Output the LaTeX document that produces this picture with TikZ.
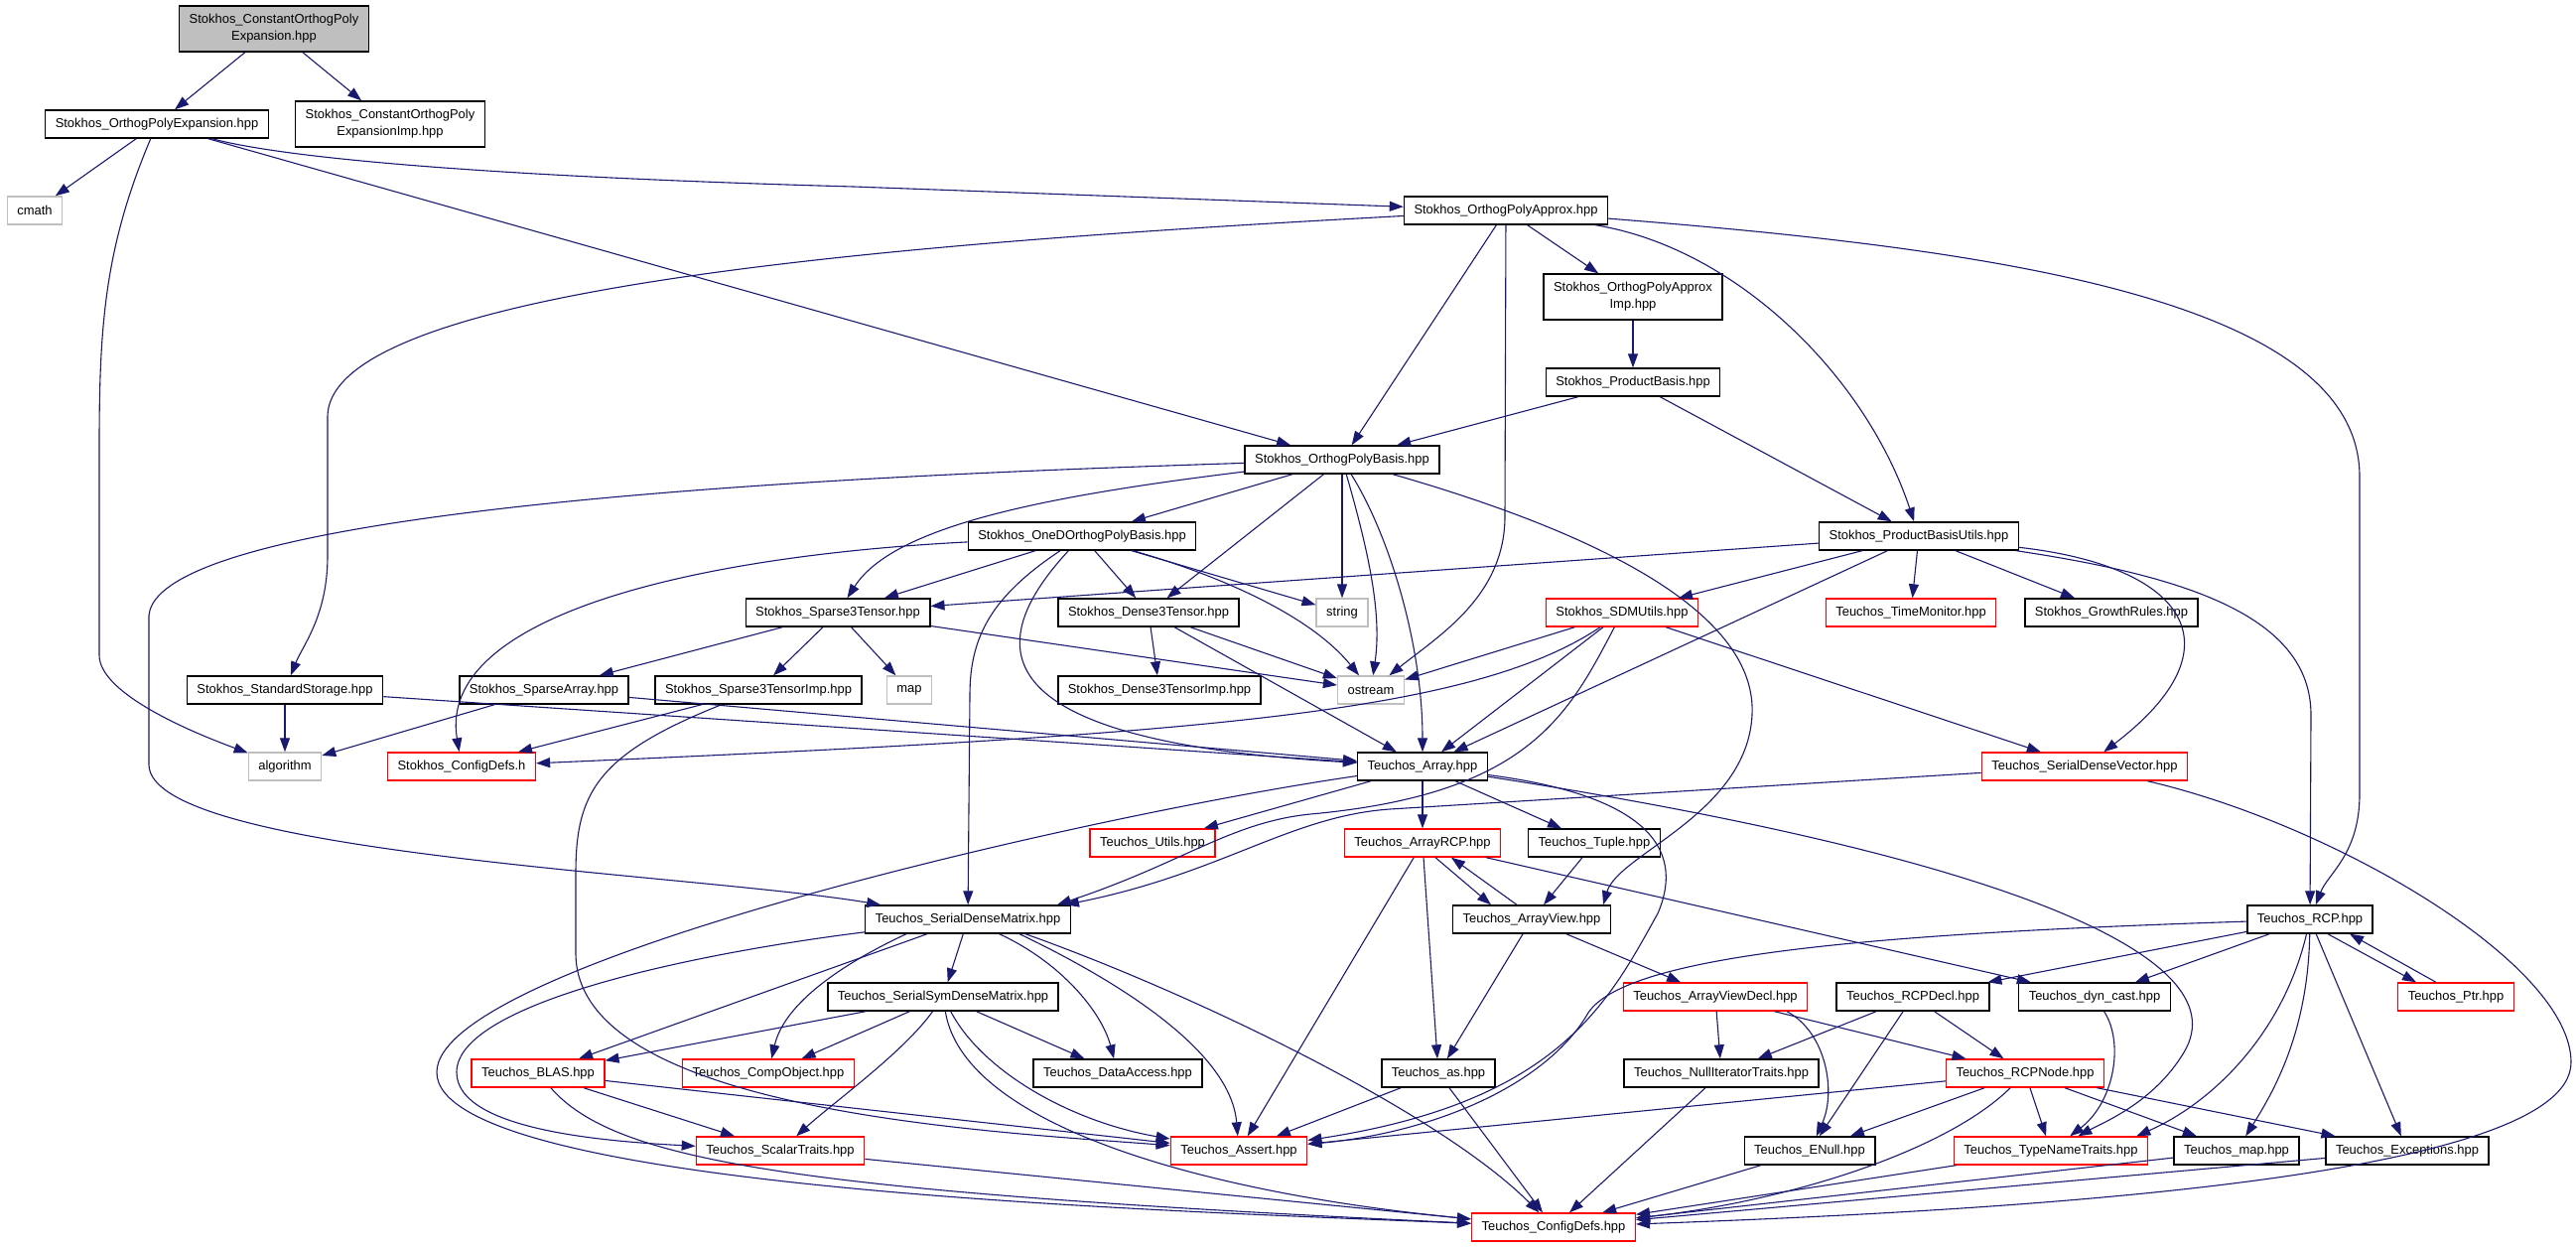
\documentclass[tikz,border=0pt]{standalone}
\usepackage{fontspec}
\setmainfont{Liberation Sans}
\usepackage{tikz}
\usetikzlibrary{arrows.meta}
\definecolor{edgeblue}{HTML}{191970}
\definecolor{sysgray}{HTML}{BFBFBF}
\newcommand{\filefont}{\fontsize{13}{17}\selectfont}
\tikzset{
    file/.style={draw=black, line width=1.4bp, fill=white, inner xsep=10bp, inner ysep=2bp,
        minimum height=28bp, align=center, font=\filefont},
    redfile/.style={file, draw=red},
    sysfile/.style={file, draw=sysgray},
    rootfile/.style={file, fill=sysgray, minimum height=46bp},
    twoline/.style={minimum height=46bp},
    dep/.style={draw=edgeblue, line width=1.1bp, -{Triangle[length=14bp, width=10bp]}},
}

\begin{document}
\begin{tikzpicture}[x=1bp, y=-1bp]
            \useasboundingbox (0, 0) rectangle (2595, 1256);

            \node [rootfile] (CEX) at (276, 29) {Stokhos\_ConstantOrthogPoly\\Expansion.hpp};
            \node [file] (OPE) at (158, 125) {Stokhos\_OrthogPolyExpansion.hpp};
            \node [file, twoline] (CEXI) at (393, 125) {Stokhos\_ConstantOrthogPoly\\ExpansionImp.hpp};
            \node [sysfile] (cmath) at (35, 212) {cmath};
            \node [file] (OPA) at (1517, 212) {Stokhos\_OrthogPolyApprox.hpp};
            \node [file, twoline] (OPAI) at (1645, 299) {Stokhos\_OrthogPolyApprox\\Imp.hpp};
            \node [file] (PB) at (1645, 385) {Stokhos\_ProductBasis.hpp};
            \node [file] (OPB) at (1352, 463) {Stokhos\_OrthogPolyBasis.hpp};
            \node [file] (OneD) at (1090, 540) {Stokhos\_OneDOrthogPolyBasis.hpp};
            \node [file] (PBU) at (1933, 540) {Stokhos\_ProductBasisUtils.hpp};
            \node [file] (S3T) at (844, 617) {Stokhos\_Sparse3Tensor.hpp};
            \node [file] (D3T) at (1157, 617) {Stokhos\_Dense3Tensor.hpp};
            \node [sysfile] (string) at (1352, 617) {string};
            \node [redfile] (SDMU) at (1634, 617) {Stokhos\_SDMUtils.hpp};
            \node [redfile] (TM) at (1925, 617) {Teuchos\_TimeMonitor.hpp};
            \node [file] (GR) at (2127, 617) {Stokhos\_GrowthRules.hpp};
            \node [file] (SS) at (287, 695) {Stokhos\_StandardStorage.hpp};
            \node [file] (SA) at (548, 695) {Stokhos\_SparseArray.hpp};
            \node [file] (S3TI) at (764, 695) {Stokhos\_Sparse3TensorImp.hpp};
            \node [sysfile] (map) at (916, 695) {map};
            \node [file] (D3TI) at (1168, 695) {Stokhos\_Dense3TensorImp.hpp};
            \node [sysfile] (ostream) at (1381, 695) {ostream};
            \node [sysfile] (algorithm) at (287, 772) {algorithm};
            \node [redfile] (SCD) at (465, 772) {Stokhos\_ConfigDefs.h};
            \node [file] (Arr) at (1433, 772) {Teuchos\_Array.hpp};
            \node [redfile] (SDV) at (2100, 772) {Teuchos\_SerialDenseVector.hpp};
            \node [redfile] (Utils) at (1161, 849) {Teuchos\_Utils.hpp};
            \node [redfile] (ARCP) at (1433, 849) {Teuchos\_ArrayRCP.hpp};
            \node [file] (Tuple) at (1606, 849) {Teuchos\_Tuple.hpp};
            \node [file] (SDM) at (975, 926) {Teuchos\_SerialDenseMatrix.hpp};
            \node [file] (AV) at (1543, 926) {Teuchos\_ArrayView.hpp};
            \node [file] (RCP) at (2327, 926) {Teuchos\_RCP.hpp};
            \node [file] (SSDM) at (950, 1004) {Teuchos\_SerialSymDenseMatrix.hpp};
            \node [redfile] (AVD) at (1728, 1004) {Teuchos\_ArrayViewDecl.hpp};
            \node [file] (RCPD) at (1927, 1004) {Teuchos\_RCPDecl.hpp};
            \node [file] (DC) at (2110, 1004) {Teuchos\_dyn\_cast.hpp};
            \node [redfile] (Ptr) at (2474, 1004) {Teuchos\_Ptr.hpp};
            \node [redfile] (BLAS) at (542, 1081) {Teuchos\_BLAS.hpp};
            \node [redfile] (CO) at (774, 1081) {Teuchos\_CompObject.hpp};
            \node [file] (DA) at (1126, 1081) {Teuchos\_DataAccess.hpp};
            \node [file] (as) at (1449, 1081) {Teuchos\_as.hpp};
            \node [file] (NIT) at (1734, 1081) {Teuchos\_NullIteratorTraits.hpp};
            \node [redfile] (RCPN) at (2040, 1081) {Teuchos\_RCPNode.hpp};
            \node [redfile] (ST) at (786, 1159) {Teuchos\_ScalarTraits.hpp};
            \node [redfile] (Assert) at (1248, 1159) {Teuchos\_Assert.hpp};
            \node [file] (ENull) at (1823, 1159) {Teuchos\_ENull.hpp};
            \node [redfile] (TNT) at (2066, 1159) {Teuchos\_TypeNameTraits.hpp};
            \node [file] (tmap) at (2253, 1159) {Teuchos\_map.hpp};
            \node [file] (Exc) at (2425, 1159) {Teuchos\_Exceptions.hpp};
            \node [redfile] (TCD) at (1565, 1236) {Teuchos\_ConfigDefs.hpp};

            % Stokhos headers
            \draw [dep] (CEX) -- (OPE);
            \draw [dep] (CEX) -- (CEXI);
            \draw [dep] (OPE) -- (cmath);
            \draw [dep] (OPE) .. controls (105, 250) and (100, 330) .. (100, 450) -- (100, 660) .. controls (100, 700) and (200, 740) .. (algorithm);
            \draw [dep] (OPE) .. controls (290, 160) and (500, 178) .. (860, 188) -- (OPA);
            \draw [dep] (OPE) -- (OPB);
            \draw [dep] (OPA) .. controls (900, 245) and (330, 290) .. (330, 420) -- (330, 560) .. controls (330, 620) and (305, 650) .. (SS);
            \draw [dep] (OPA) -- (OPB);
            \draw [dep] (OPA) -- (1516, 520) .. controls (1516, 600) and (1450, 640) .. (ostream);
            \draw [dep] (OPA) -- (OPAI);
            \draw [dep] (OPA) .. controls (1750, 250) and (1880, 380) .. (PBU);
            \draw [dep] (OPA) .. controls (2000, 250) and (2377, 300) .. (2377, 480) -- (2377, 800) .. controls (2377, 860) and (2345, 880) .. (RCP);
            \draw [dep] (OPAI) -- (PB);
            \draw [dep] (PB) -- (OPB);
            \draw [dep] (PB) -- (PBU);
            \draw [dep] (OPB) .. controls (1000, 475) and (160, 500) .. (150, 620) -- (150, 770) .. controls (150, 860) and (700, 880) .. (SDM);
            \draw [dep] (OPB) -- (OneD);
            \draw [dep] (OPB) .. controls (1050, 500) and (900, 530) .. (S3T);
            \draw [dep] (OPB) -- (D3T);
            \draw [dep] (OPB) -- (string);
            \draw [dep] (OPB) .. controls (1380, 560) and (1392, 620) .. (ostream);
            \draw [dep] (OPB) .. controls (1400, 540) and (1433, 650) .. (Arr);
            \draw [dep] (OPB) .. controls (1620, 540) and (1770, 620) .. (1765, 720) .. controls (1760, 820) and (1630, 860) .. ([xshift=-8bp]AV.north east);
            \draw [dep] (OneD) -- (S3T);
            \draw [dep] (OneD) -- (D3T);
            \draw [dep] (OneD) -- (string);
            \draw [dep] (OneD) .. controls (1230, 580) and (1320, 620) .. (ostream);
            \draw [dep] (OneD) .. controls (960, 680) and (1050, 750) .. (Arr);
            \draw [dep] (OneD) .. controls (700, 560) and (440, 620) .. (SCD);
            \draw [dep] (OneD) .. controls (1000, 600) and (977, 640) .. (977, 700) -- (SDM);
            \draw [dep] (S3T) -- (SA);
            \draw [dep] (S3T) -- (S3TI);
            \draw [dep] (S3T) -- (map);
            \draw [dep] (S3T) -- (ostream);
            \draw [dep] (SS) -- (algorithm);
            \draw [dep] (SS) -- (Arr);
            \draw [dep] (SA) -- (algorithm);
            \draw [dep] (SA) -- (Arr);
            \draw [dep] (S3TI) -- (SCD);
            \draw [dep] (S3TI) .. controls (600, 760) and (580, 800) .. (580, 880) -- (580, 960) .. controls (580, 1120) and (1000, 1140) .. (Assert);
            \draw [dep] (D3T) -- (D3TI);
            \draw [dep] (D3T) -- (ostream);
            \draw [dep] (D3T) -- (Arr);
            \draw [dep] (PBU) -- (S3T);
            \draw [dep] (PBU) -- (SDMU);
            \draw [dep] (PBU) -- (Arr);
            \draw [dep] (PBU) -- (TM);
            \draw [dep] (PBU) -- (GR);
            \draw [dep] (PBU) .. controls (2200, 570) and (2260, 650) .. (SDV);
            \draw [dep] (PBU) .. controls (2200, 580) and (2328, 620) .. (2328, 720) -- (RCP);
            \draw [dep] (SDMU) -- (ostream);
            \draw [dep] (SDMU) -- (Arr);
            \draw [dep] (SDMU) .. controls (1480, 720) and (1200, 740) .. (SCD);
            \draw [dep] (SDMU) .. controls (1580, 720) and (1540, 800) .. (1320, 820) .. controls (1240, 828) and (1190, 870) .. ([xshift=-14bp]SDM.north east);
            \draw [dep] (SDMU) -- (SDV);

            % Teuchos headers
            \draw [dep] (SDV) -- (1400, 815) .. controls (1300, 822) and (1230, 880) .. ([xshift=-6bp]SDM.north east);
            \draw [dep] (SDV) .. controls (2350, 830) and (2590, 970) .. (2590, 1070) .. controls (2590, 1190) and (2000, 1220) .. (TCD);
            \draw [dep] (Arr) .. controls (1100, 820) and (440, 970) .. (440, 1080) .. controls (440, 1200) and (1200, 1220) .. (TCD);
            \draw [dep] (Arr) -- (Utils);
            \draw [dep] (Arr) -- (ARCP);
            \draw [dep] (Arr) -- (Tuple);
            \draw [dep] (Arr) .. controls (1650, 800) and (1700, 850) .. (1670, 920) .. controls (1620, 1010) and (1570, 1110) .. (Assert);
            \draw [dep] (Arr) .. controls (2000, 860) and (2260, 960) .. (2200, 1060) .. controls (2170, 1110) and (2120, 1130) .. (TNT);
            \draw [dep] ([xshift=13bp]ARCP.south) -- ([xshift=-41bp]AV.north);
            \draw [dep] ([xshift=-15bp]AV.north) -- ([xshift=29bp]ARCP.south);
            \draw [dep] (ARCP) -- (as);
            \draw [dep] (ARCP) -- (Assert);
            \draw [dep] (ARCP) -- (DC);
            \draw [dep] (Tuple) -- (AV);
            \draw [dep] (AV) -- (as);
            \draw [dep] (AV) -- (AVD);
            \draw [dep] (SDM) -- (SSDM);
            \draw [dep] (SDM) -- (BLAS);
            \draw [dep] ([xshift=-62bp]SDM.south) .. controls (850, 970) and (790, 1010) .. (CO);
            \draw [dep] (SDM) .. controls (1070, 970) and (1110, 1020) .. (DA);
            \draw [dep] (SDM) .. controls (700, 960) and (460, 1010) .. (460, 1080) .. controls (460, 1140) and (620, 1150) .. (ST);
            \draw [dep] ([xshift=52bp]SDM.south) .. controls (1130, 990) and (1240, 1060) .. (Assert);
            \draw [dep] ([xshift=58bp]SDM.south) .. controls (1200, 1000) and (1450, 1120) .. (TCD);
            \draw [dep] (SSDM) -- (BLAS);
            \draw [dep] (SSDM) -- (CO);
            \draw [dep] (SSDM) .. controls (910, 1060) and (840, 1110) .. (ST);
            \draw [dep] (SSDM) -- (DA);
            \draw [dep] (SSDM) .. controls (990, 1080) and (1080, 1130) .. (Assert);
            \draw [dep] (SSDM) .. controls (970, 1130) and (1200, 1200) .. (TCD);
            \draw [dep] (BLAS) -- (ST);
            \draw [dep] (BLAS) -- (Assert);
            \draw [dep] (BLAS) .. controls (620, 1170) and (800, 1200) .. (TCD);
            \draw [dep] (ST) -- (TCD);
            \draw [dep] (as) -- (Assert);
            \draw [dep] (as) -- (TCD);
            \draw [dep] (AVD) -- (NIT);
            \draw [dep] ([xshift=72bp]AVD.south) .. controls (1840, 1040) and (1850, 1100) .. (ENull);
            \draw [dep] (AVD) -- (RCPN);
            \draw [dep] (RCPD) -- (NIT);
            \draw [dep] (RCPD) -- (ENull);
            \draw [dep] (RCPD) -- (RCPN);
            \draw [dep] (NIT) -- (TCD);
            \draw [dep] (RCPN) -- (Assert);
            \draw [dep] (RCPN) -- (ENull);
            \draw [dep] (RCPN) -- (TNT);
            \draw [dep] (RCPN) .. controls (1960, 1160) and (1800, 1210) .. (TCD);
            \draw [dep] (RCPN) -- (tmap);
            \draw [dep] (RCPN) -- (Exc);
            \draw [dep] (ENull) -- (TCD);
            \draw [dep] (TNT) -- (TCD);
            \draw [dep] (tmap) -- (TCD);
            \draw [dep] (Exc) -- (TCD);
            \draw [dep] (DC) .. controls (2140, 1050) and (2130, 1110) .. (TNT);
            \draw [dep] (RCP) .. controls (1900, 940) and (1640, 960) .. (1600, 1020) .. controls (1560, 1090) and (1450, 1140) .. (Assert);
            \draw [dep] (RCP) -- (RCPD);
            \draw [dep] (RCP) -- (DC);
            \draw [dep] (RCP) .. controls (2300, 1040) and (2230, 1110) .. ([xshift=-12bp]TNT.north east);
            \draw [dep] (RCP) .. controls (2325, 1040) and (2290, 1100) .. (tmap);
            \draw [dep] (RCP) -- (Exc);
            \draw [dep] ([xshift=18bp]RCP.south) -- ([xshift=-40bp]Ptr.north);
            \draw [dep] ([xshift=-20bp]Ptr.north) -- ([xshift=40bp]RCP.south);
        \end{tikzpicture}
\end{document}
